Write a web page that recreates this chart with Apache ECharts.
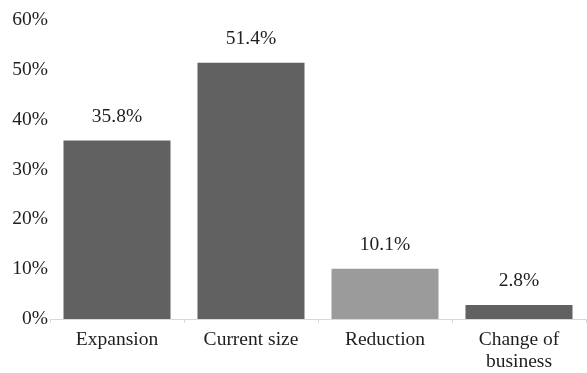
<!DOCTYPE html>
<html>
<head>
<meta charset="utf-8">
<script src="https://cdn.jsdelivr.net/npm/echarts@6/dist/echarts.min.js"></script>
<style>
  html, body { margin: 0; padding: 0; background: #fff; }
  #chart { width: 587px; height: 373px; }
</style>
</head>
<body>
<div id="chart"></div>
<script>
// Intended business size after the period, share of respondents (%)
const categories = ['Expansion', 'Current size', 'Reduction', 'Change of\nbusiness'];
const shares = [35.8, 51.4, 10.1, 2.8];
const barColors = ['#616161', '#616161', '#9b9b9b', '#616161'];
const yTicks = [0, 10, 20, 30, 40, 50, 60];

const font = '"Liberation Serif", "Times New Roman", serif';

const chart = echarts.init(document.getElementById('chart'));
chart.setOption({
  animation: false,
  grid: { left: 50, right: 1, top: 20, bottom: 53, containLabel: false },
  xAxis: {
    type: 'category',
    data: categories,
    axisLine: { lineStyle: { color: '#d9d9d9', width: 1 } },
    axisTick: { show: true, length: 4, lineStyle: { color: '#d9d9d9' } },
    axisLabel: {
      color: '#1e1e1e', fontFamily: font, fontSize: 19.5, margin: 10, lineHeight: 22
    }
  },
  yAxis: {
    type: 'value',
    min: yTicks[0],
    max: yTicks[yTicks.length - 1],
    interval: 10,
    axisLine: { show: false },
    axisTick: { show: false },
    splitLine: { show: false },
    axisLabel: {
      color: '#1e1e1e', fontFamily: font, fontSize: 19.5, margin: 2,
      padding: [0, 0, 5, 0],
      formatter: v => v + '%'
    }
  },
  series: [{
    type: 'bar',
    barWidth: 107,
    data: shares.map((v, i) => ({ value: v, itemStyle: { color: barColors[i] } })),
    label: {
      show: true,
      position: 'top',
      distance: 14,
      color: '#1e1e1e',
      fontFamily: font,
      fontSize: 19.5,
      formatter: p => p.value.toFixed(1) + '%'
    }
  }]
});
</script>
</body>
</html>
